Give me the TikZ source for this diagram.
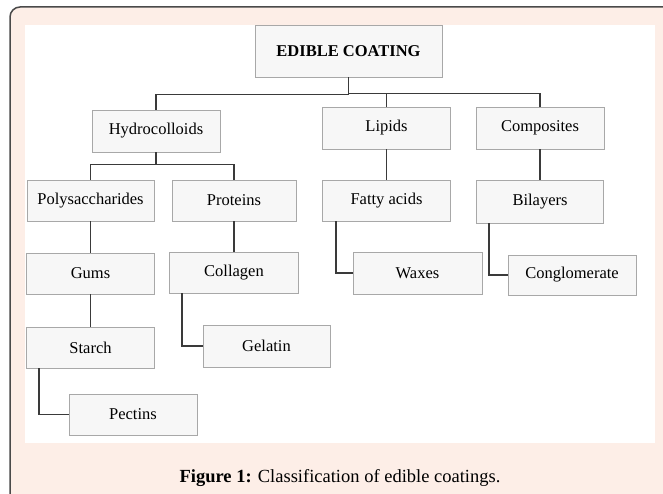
\documentclass[tikz,border=0pt]{standalone}
\usepackage{fontspec}
\setmainfont{Liberation Serif}
\usepackage{tikz}

\definecolor{framepink}{HTML}{FDEEE7}
\definecolor{framegray}{HTML}{4A4A4A}
\definecolor{boxgray}{HTML}{A8A8A8}
\definecolor{linegray}{HTML}{3A3A3A}

\begin{document}
\begin{tikzpicture}[
    x=1pt, y=-1pt, % one unit is one pixel, measured from the top
    line width=1.6pt, % Line thickness for connectors
    draw=linegray,
    box/.style={rectangle, draw=boxgray, line width=0.9pt, fill=white!97!black,
        inner sep=0pt, font=\fontsize{16.5}{18}\selectfont},
    capt/.style={font=\fontsize{18.5}{20}\selectfont}
]

% Frame and page
\useasboundingbox (0,0) rectangle (663,494);
\clip (0,0) rectangle (663,494);
\fill[white] (0,0) rectangle (663,494);
\draw[framegray, fill=framepink, line width=1.5pt, rounded corners=10pt] (10,7) rectangle (690,520);
\fill[white] (25,25) rectangle (655,443);

% Define the nodes
\node[box, minimum width=187, minimum height=52, font=\fontsize{16.5}{18}\bfseries] (coating) at (348.5, 51) {EDIBLE COATING};
\node[box, minimum width=128, minimum height=42] (hydro) at (156, 131) {Hydrocolloids};
\node[box, minimum width=128, minimum height=42] (lipids) at (386.5, 128) {Lipids};
\node[box, minimum width=128, minimum height=42] (composites) at (540, 128) {Composites};
\node[box, minimum width=127, minimum height=41] (poly) at (90.5, 200.5) {Polysaccharides};
\node[box, minimum width=124, minimum height=41] (proteins) at (234, 200.5) {Proteins};
\node[box, minimum width=128, minimum height=41] (fatty) at (386.5, 200.5) {Fatty acids};
\node[box, minimum width=127, minimum height=43] (bilayers) at (540, 201.5) {Bilayers};
\node[box, minimum width=128, minimum height=41] (gums) at (90.5, 273.5) {Gums};
\node[box, minimum width=129, minimum height=41] (collagen) at (234, 272.5) {Collagen};
\node[box, minimum width=129, minimum height=42] (waxes) at (417.5, 273) {Waxes};
\node[box, minimum width=128, minimum height=40] (conglo) at (572, 275) {Conglomerate};
\node[box, minimum width=128, minimum height=41] (starch) at (90.5, 347.5) {Starch};
\node[box, minimum width=127, minimum height=42] (gelatin) at (266.5, 346) {Gelatin};
\node[box, minimum width=128, minimum height=41] (pectins) at (133, 414.5) {Pectins};

\node[capt] (caption) at (340, 478) {\textbf{Figure 1:} Classification of edible coatings.};

% Define the connectors
\draw (coating.south) -- ++(0,17) -| (hydro.north);
\draw (coating.south) -- ++(0,16) -| (lipids.north);
\draw (coating.south) -- ++(0,16) -| (composites.north);
\draw (hydro.south) -- ++(0,12) -| (poly.north);
\draw (hydro.south) -- ++(0,12) -| (proteins.north);
\draw (lipids) edge (fatty);
\draw (composites) edge (bilayers);
\draw (poly) edge (gums);
\draw (gums) edge (starch);
\draw (proteins) edge (collagen);
\draw ([xshift=13]collagen.south west) |- (gelatin.west);
\draw ([xshift=13]starch.south west) |- (pectins.west);
\draw ([xshift=14]fatty.south west) |- (waxes.west);
\draw ([xshift=13]bilayers.south west) |- (conglo.west);

\end{tikzpicture}
\end{document}
